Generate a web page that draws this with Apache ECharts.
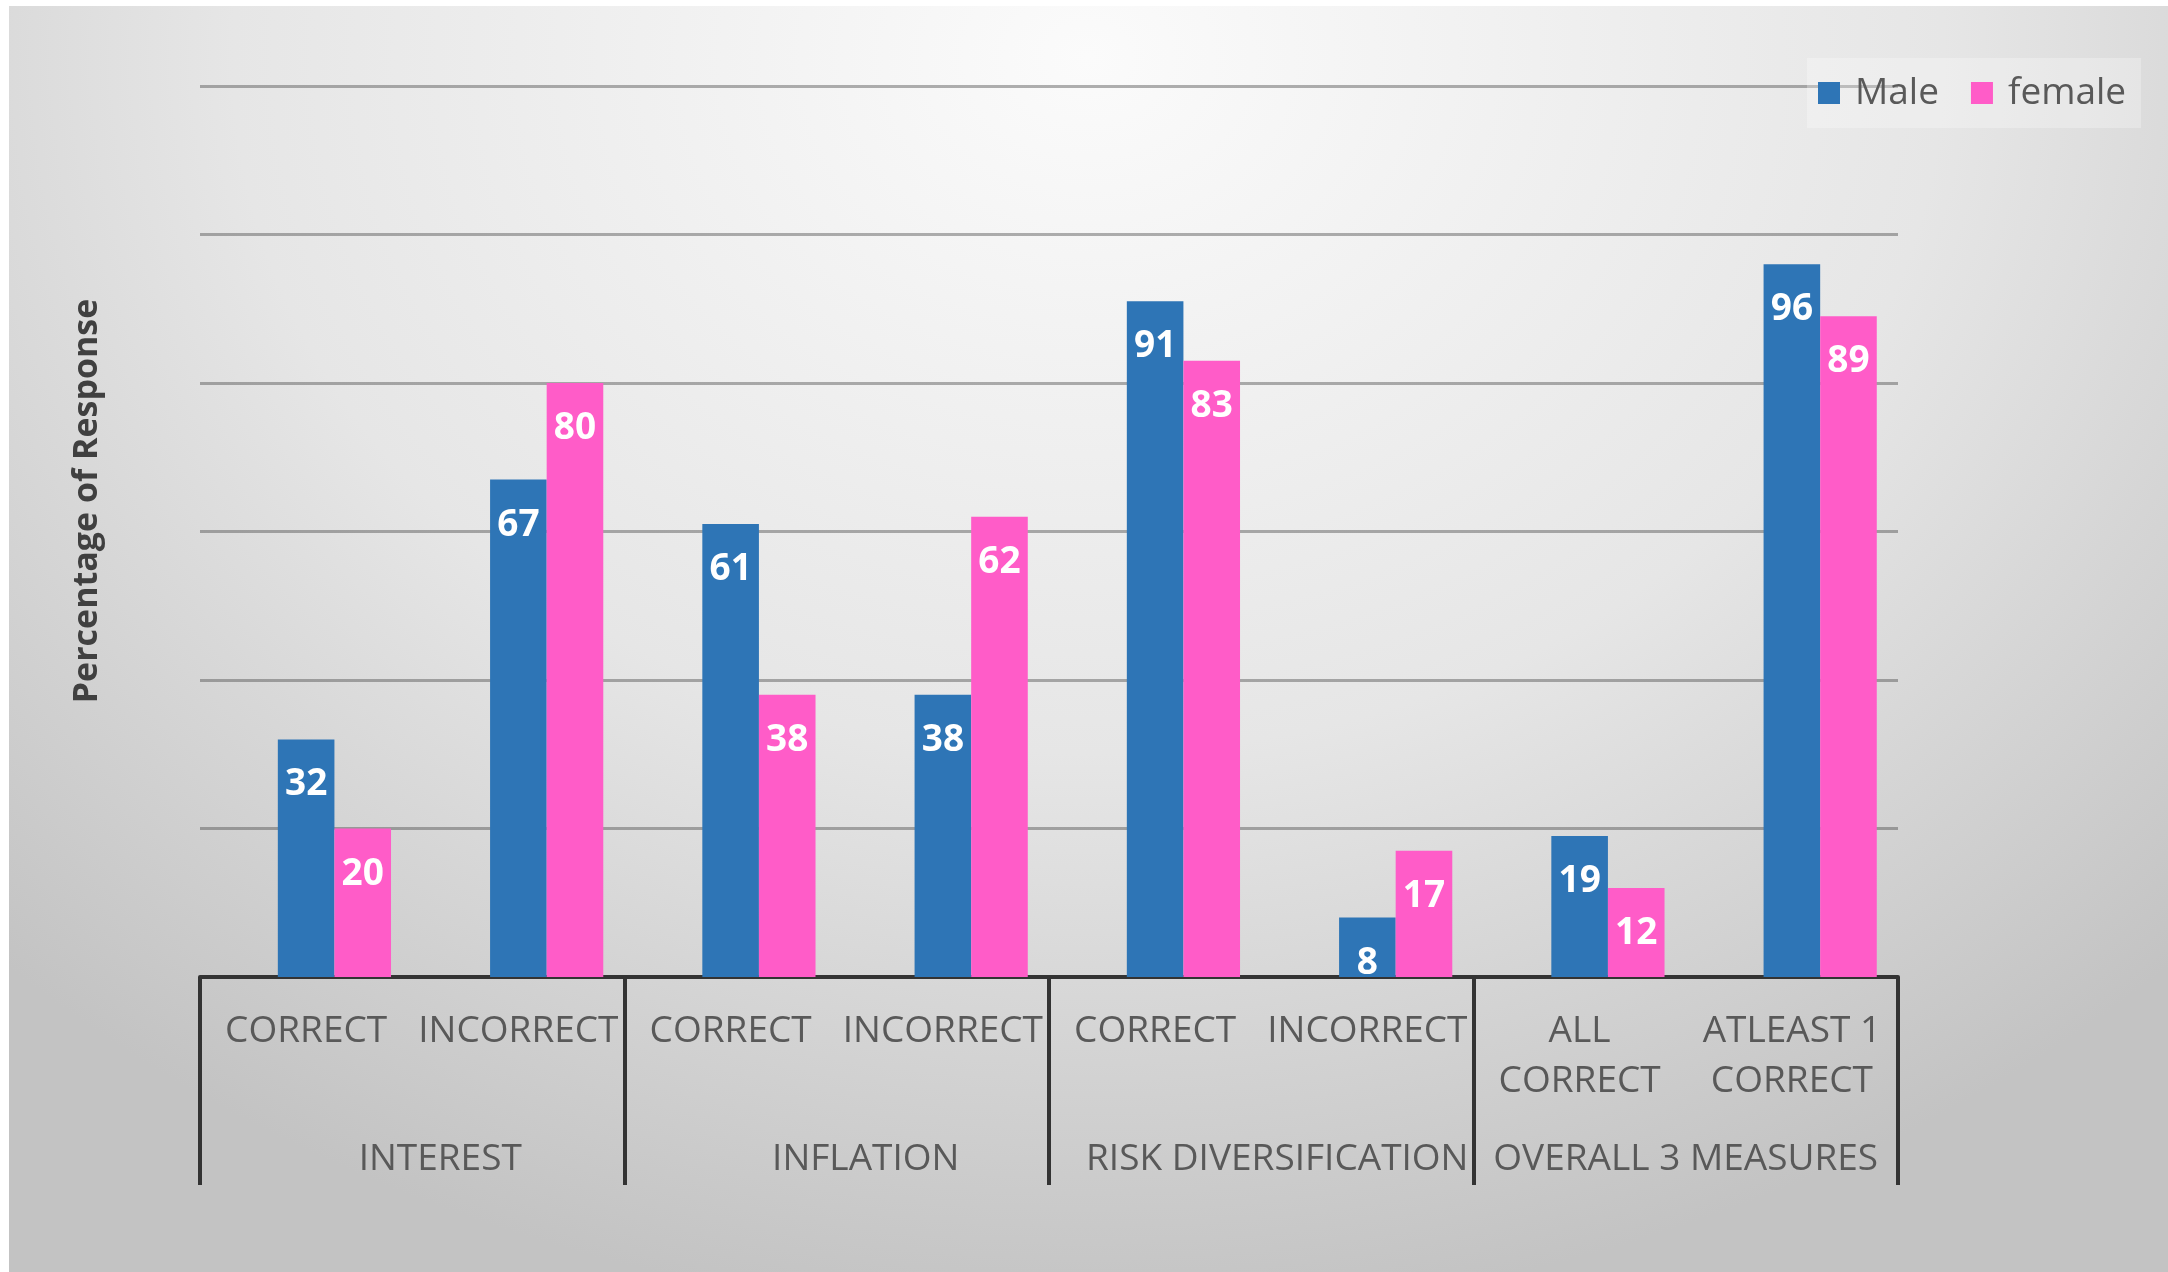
<!DOCTYPE html>
<html>
<head>
<meta charset="utf-8">
<script src="https://cdn.jsdelivr.net/npm/echarts@6/dist/echarts.min.js"></script>
<style>
  html, body { margin: 0; padding: 0; background: #ffffff; }
  #chart {
    position: absolute; left: 9px; top: 6px; width: 2159px; height: 1266px;
    background: radial-gradient(ellipse 72% 100% at 50% 4%, #fbfbfb 0%, #e6e6e6 55%, #c3c3c3 100%);
  }
</style>
</head>
<body>
<div id="chart"></div>
<script>
// Answers by question and gender (percentage of respondents)
const categories = ['CORRECT', 'INCORRECT', 'CORRECT', 'INCORRECT', 'CORRECT', 'INCORRECT', 'ALL\nCORRECT', 'ATLEAST 1\nCORRECT'];
const groups = ['INTEREST', 'INFLATION', 'RISK DIVERSIFICATION', 'OVERALL 3 MEASURES'];
const maleValues = [32, 67, 61, 38, 91, 8, 19, 96];
const femaleValues = [20, 80, 38, 62, 83, 17, 12, 89];
const yTicks = [0, 20, 40, 60, 80, 100, 120];

const chart = echarts.init(document.getElementById('chart'), null, { renderer: 'canvas' });

const FONT = '"Open Sans", "DejaVu Sans", sans-serif';
const barLabel = {
  show: true,
  position: 'insideTop',
  distance: 27,
  color: '#ffffff',
  fontFamily: FONT,
  fontSize: 37,
  fontWeight: 'bold'
};

// group captions sit a little right of their group centre
const groupShift = [56, 58, 32, 0];

chart.setOption({
  backgroundColor: 'transparent',
  animation: false,
  legend: {
    data: ['Male', 'female'],
    left: 1798,
    top: 52,
    orient: 'horizontal',
    icon: 'rect',
    itemWidth: 22,
    itemHeight: 22,
    itemGap: 32,
    padding: [16, 15, 16, 11],
    backgroundColor: 'rgba(255,255,255,0.28)',
    textStyle: {
      color: '#595959',
      fontFamily: FONT,
      fontSize: 37,
      lineHeight: 38,
      padding: [0, 0, 0, 10]
    }
  },
  graphic: [{
    type: 'text',
    x: 78,
    y: 495,
    rotation: Math.PI / 2,
    style: {
      text: 'Percentage of Response',
      fill: '#404040',
      font: 'bold 34px "Open Sans", sans-serif',
      textAlign: 'center',
      textVerticalAlign: 'middle'
    }
  }],
  grid: { left: 191, right: 270, top: 80, bottom: 295, containLabel: false },
  xAxis: [{
    type: 'category',
    data: categories,
    position: 'bottom',
    axisLine: { show: true, lineStyle: { color: '#333333', width: 4 } },
    axisTick: { show: false },
    axisLabel: {
      interval: 0,
      margin: 29,
      color: '#595959',
      fontFamily: FONT,
      fontSize: 37,
      lineHeight: 50
    }
  }, {
    type: 'category',
    data: groups.map((g, i) => ({ value: g, textStyle: { padding: [0, 0, 0, groupShift[i]] } })),
    position: 'bottom',
    axisLine: { show: false },
    axisTick: { show: true, length: 208, lineStyle: { color: '#333333', width: 4 } },
    axisLabel: {
      interval: 0,
      margin: 157,
      color: '#595959',
      fontFamily: FONT,
      fontSize: 37,
      lineHeight: 50
    }
  }],
  yAxis: {
    type: 'value',
    min: yTicks[0],
    max: yTicks[yTicks.length - 1],
    interval: yTicks[1] - yTicks[0],
    axisLine: { show: false },
    axisTick: { show: false },
    axisLabel: { show: false },
    splitLine: { lineStyle: { color: 'rgba(70,70,70,0.42)', width: 3 } }
  },
  series: [{
    // empty leading slot: the two bars sit right of each category centre
    name: 'slot',
    type: 'bar',
    data: categories.map(() => null),
    barGap: '0%',
    barCategoryGap: '20%'
  }, {
    name: 'Male',
    type: 'bar',
    data: maleValues,
    itemStyle: { color: '#2E75B6' },
    label: barLabel,
    barGap: '0%',
    barCategoryGap: '20%'
  }, {
    name: 'female',
    type: 'bar',
    data: femaleValues,
    itemStyle: { color: '#FF5CC8' },
    label: barLabel,
    barGap: '0%',
    barCategoryGap: '20%'
  }]
});
</script>
</body>
</html>
